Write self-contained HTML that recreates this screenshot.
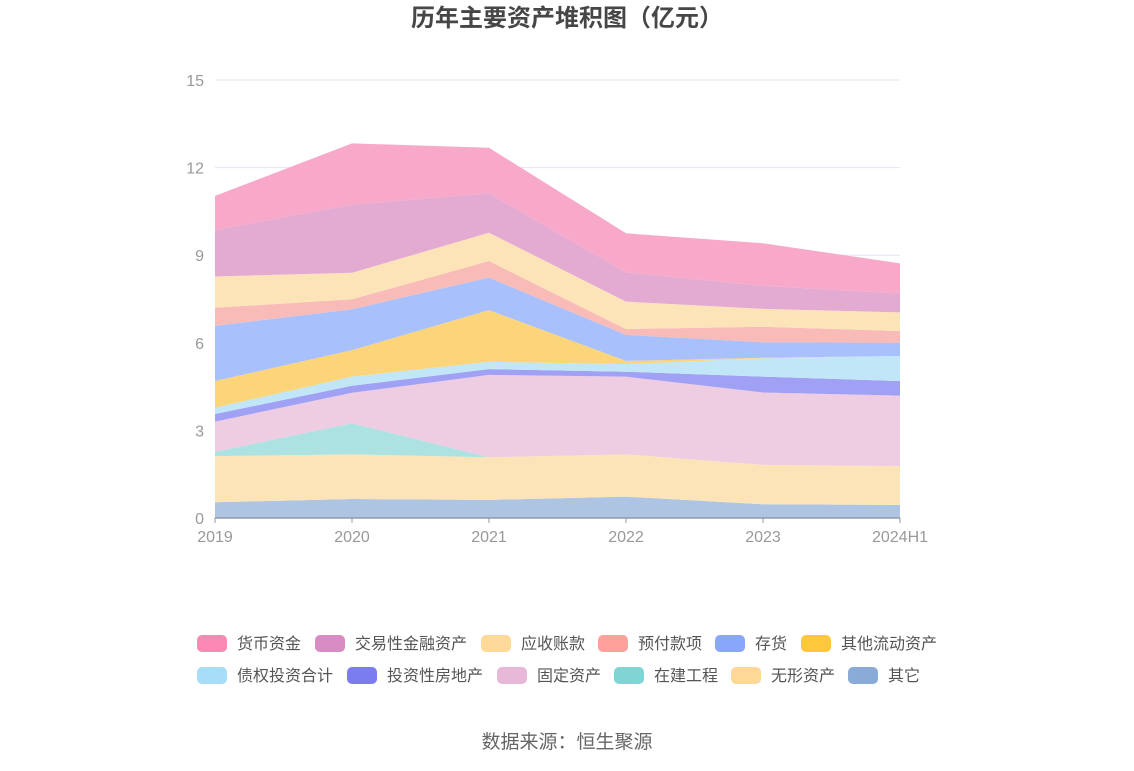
<!DOCTYPE html>
<html><head><meta charset="utf-8"><style>
body{margin:0;background:#fff;font-family:"Liberation Sans","Noto Sans CJK SC",sans-serif;}
svg text{font-family:"Liberation Sans","Noto Sans CJK SC",sans-serif;}
</style></head><body>
<svg id="c" width="1134" height="766" xmlns="http://www.w3.org/2000/svg">
<text x="567" y="26" text-anchor="middle" font-size="24" font-weight="bold" fill="#464646">历年主要资产堆积图（亿元）</text>
<g id="grid"></g><g id="areas"></g><g id="axes"></g><g id="legend"></g>
<text x="567" y="748" text-anchor="middle" font-size="19" fill="#666">数据来源：恒生聚源</text>
</svg>
<script>
const categories=["2019","2020","2021","2022","2023","2024H1"];
const yTicks=[0,3,6,9,12,15];
const seriesNames=["其它","无形资产","在建工程","固定资产","投资性房地产","债权投资合计","其他流动资产","存货","预付款项","应收账款","交易性金融资产","货币资金"];
const sOther=[0.54,0.65,0.62,0.73,0.47,0.45];
const sIntangible=[1.58,1.53,1.46,1.45,1.35,1.33];
const sConstruction=[0.15,1.06,0,0,0,0];
const sFixed=[1.03,1.05,2.82,2.66,2.48,2.41];
const sInvestProp=[0.26,0.24,0.20,0.17,0.54,0.50];
const sDebtInv=[0.22,0.31,0.25,0.26,0.63,0.86];
const sOtherCurrent=[0.91,0.91,1.77,0.11,0.02,0];
const sInventory=[1.89,1.40,1.11,0.89,0.53,0.45];
const sPrepay=[0.62,0.34,0.57,0.20,0.53,0.40];
const sReceivable=[1.07,0.91,0.97,0.94,0.61,0.64];
const sTrading=[1.59,2.33,1.35,1.00,0.79,0.65];
const sCash=[1.17,2.10,1.56,1.34,1.46,1.03];
const series=[sOther,sIntangible,sConstruction,sFixed,sInvestProp,sDebtInv,sOtherCurrent,sInventory,sPrepay,sReceivable,sTrading,sCash];
const fills=["#adc4e2","#fde4b8","#ace2e2","#eecce2","#a0a0f4","#c0e6f8","#fcd57a","#a8c0fc","#f9bbb8","#fde4b8","#e3aad2","#f8a8c8"];
const swatch=["#8aaad8","#ffd898","#80d4d4","#e8b8d8","#7b7cf0","#a8ddf8","#ffc73a","#88a6fc","#ffa09a","#ffd99a","#d98cc4","#fb88b2"];
const keys=["other","intangible","construction","fixed","invest-property","debt-invest","other-current","inventory","prepay","receivable","trading","cash"];
const NS="http://www.w3.org/2000/svg";
const X0=215,X1=900,Y0=518,Y1=80,YMAX=15;
const x=i=>X0+(X1-X0)*i/(categories.length-1);
const y=v=>Y0-(Y0-Y1)*v/YMAX;
function mk(t,a,p){const e=document.createElementNS(NS,t);for(const k in a)e.setAttribute(k,a[k]);p.appendChild(e);return e;}
const grid=document.getElementById('grid'),areas=document.getElementById('areas'),axes=document.getElementById('axes'),leg=document.getElementById('legend');
yTicks.forEach(t=>{
 if(t>0){const l=mk('line',{x1:X0,x2:X1,y1:y(t),y2:y(t),stroke:'#e0e6f1'},grid);
 
 }
 const tx=mk('text',{x:204,y:y(t)+6,'text-anchor':'end','font-size':16,fill:'#999'},axes);tx.textContent=t;
 
 
});
let base=categories.map(()=>0);
series.forEach((s,k)=>{
 const top=base.map((b,i)=>b+s[i]);
 let d='M'+categories.map((c,i)=>x(i)+','+y(top[i])).join('L');
 for(let i=categories.length-1;i>=0;i--)d+='L'+x(i)+','+y(base[i]);
 const p=mk('path',{d:d+'Z',fill:fills[k],stroke:'none'},areas);
 
 
 base=top;
});
const ax=mk('line',{x1:X0,x2:X1,y1:Y0,y2:Y0,stroke:'#8e9aa8','stroke-width':1.5},axes);


categories.forEach((c,i)=>{
 mk('line',{x1:x(i),x2:x(i),y1:Y0,y2:Y0+5,stroke:'#8e9aa8'},axes);
 const t=mk('text',{x:x(i),y:542,'text-anchor':'middle','font-size':16,fill:'#999'},axes);t.textContent=c;
 
 
});
const order=[11,10,9,8,7,6,5,4,3,2,1,0];
const lx=[[197,315,481,598,715,801],[197,347,497,614,731,848]];
order.forEach((k,j)=>{
 const r=j<6?0:1,c=j%6,gx=lx[r][c],gy=r?675:643;
 const g=mk('g',{},leg);
 
 
 mk('rect',{x:gx,y:gy-8,width:30,height:17,rx:5,fill:swatch[k]},g);
 const t=mk('text',{x:gx+40,y:gy+6,'font-size':16,fill:'#555'},g);t.textContent=seriesNames[k];
});
</script>
</body></html>
